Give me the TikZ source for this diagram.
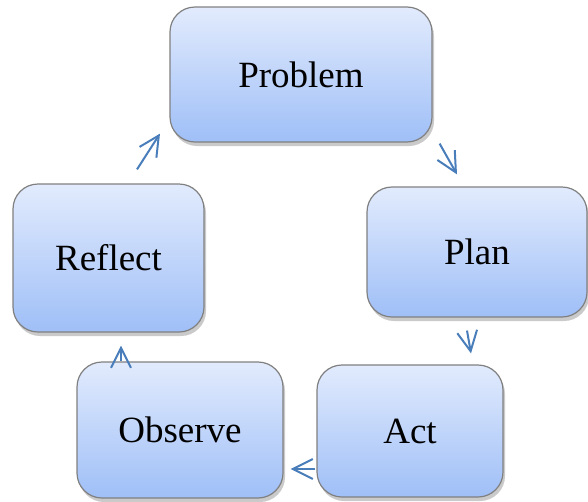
\documentclass[tikz,border=0pt]{standalone}
\usepackage{fontspec}
\setmainfont{Liberation Serif}
\usepackage{xcolor}
\usetikzlibrary{arrows.meta,shadows}
\definecolor{boxtop}{HTML}{E2EBFD}
\definecolor{boxbot}{HTML}{9FBFF7}
\definecolor{boxline}{HTML}{808080}
\definecolor{cycblue}{HTML}{4A7EBB}

\begin{document}
\begin{tikzpicture}[x=1pt, y=-1pt,
  every node/.style={rectangle, rounded corners=25pt, draw=boxline, line width=1.2pt,
    top color=boxtop, bottom color=boxbot, inner sep=0pt,
    drop shadow={shadow xshift=2pt, shadow yshift=-4pt, opacity=0.35, fill=black!60},
    font=\fontsize{37pt}{44pt}\selectfont},
  cyc/.style={draw=cycblue, line width=2pt, -{Straight Barb[length=20pt,width=20pt]}}]
  \useasboundingbox (0,0) rectangle (588,501);
  \foreach \nm/\txt/\x/\y/\w/\h in {problem/Problem/301/74.5/262/135,
      plan/Plan/477/252/220/130, act/Act/410/431/186/132,
      observe/Observe/180/430/206/136, reflect/Reflect/108.5/258/191/148} {
    \node[minimum width=\w pt, minimum height=\h pt] (\nm) at (\x,\y) {\txt};
  }
  \draw[cyc] ([xshift=28.5pt,yshift=14pt]reflect.north) -- ([xshift=-141pt,yshift=9pt]problem.south);
  \draw[cyc] ([xshift=7pt,yshift=-1pt]problem.south east) -- ([xshift=-20pt,yshift=12pt]plan.north);
  \draw[cyc] ([xshift=-10pt,yshift=-13pt]plan.south) -- ([xshift=61pt,yshift=11pt]act.north);
  \draw[cyc] ([xshift=-59pt,yshift=0pt]observe.north) -- ([xshift=12.5pt,yshift=-13pt]reflect.south);
  \draw[cyc] ([xshift=-1pt,yshift=-38pt]act.west) -- ([xshift=7pt,yshift=-39pt]observe.east);
\end{tikzpicture}
\end{document}
